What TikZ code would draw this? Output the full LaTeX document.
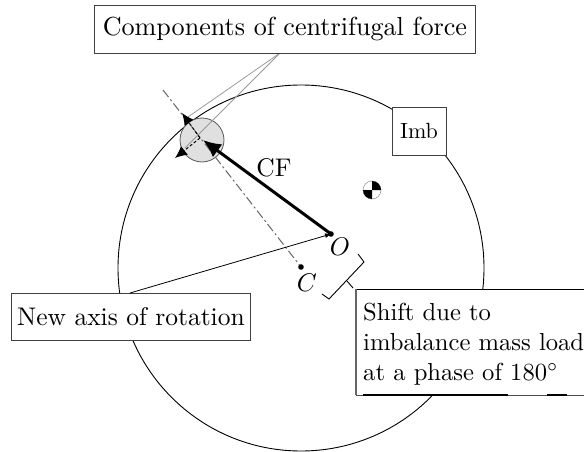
\documentclass[tikz,border=0pt]{standalone}
\usepackage{graphicx}
\usetikzlibrary{arrows.meta}
\definecolor{ballgray}{gray}{0.88}
\newcommand{\bigtxt}[1]{\scalebox{2.55}{#1}}
\tikzset{
  lab/.style={draw=black!75,fill=white,line width=0.9pt,inner sep=0pt},
  leader/.style={black!40,line width=0.8pt},
  axisline/.style={black!60,line width=1pt,dash pattern=on 9pt off 3pt on 2pt off 3pt},
  comparrow/.style={densely dashed,line width=1pt,-{Latex[length=12pt,width=11pt]}},
  thinline/.style={line width=0.9pt}
}
\begin{document}
\begin{tikzpicture}[x=1pt,y=-1pt]
\useasboundingbox (0,0) rectangle (584,452);
\coordinate (Cc) at (301,268);
\draw[thinline] (Cc) circle[radius=183];
\node[lab,minimum width=54pt,minimum height=48pt] (imb) at (419,131) {\scalebox{2.2}{Imb}};
\coordinate (O) at (331,234);
\coordinate (B) at (202,140);
\coordinate (Bc) at (200,138);
\coordinate (Bh) at (203,140);
\coordinate (Ct) at (301,267);
\coordinate (Aend) at (163,90);
\coordinate (L0) at (280,53);
\coordinate (L1) at (188,117);
\coordinate (L2) at (185,148);
\coordinate (t1) at (182,113);
\coordinate (t2) at (175,158);
\coordinate (A0) at (130,293);
\coordinate (S1) at (358,254);
\coordinate (S2) at (364,262);
\coordinate (S3) at (329,299);
\coordinate (S4) at (322,294);
\coordinate (S5) at (347,281);
\coordinate (S6) at (353,288);
\draw[draw=black!65,fill=ballgray,line width=0.8pt] (B) circle[radius=22];
\draw[axisline] (Aend) -- (Ct);
\draw[leader] (L0) -- (L1);
\draw[leader] (L0) -- (L2);
\draw[comparrow] (Bc) -- (t1);
\draw[comparrow] (Bc) -- (t2);
\draw[line width=3pt,-{Latex[length=18pt,width=16pt]}] (O) -- (Bh);
\fill (O) circle[radius=2.8];
\fill (Ct) circle[radius=2.8];
\node (cf) at (274,168) {\bigtxt{CF}};
\node (olab) at (340,247) {\bigtxt{$O$}};
\node (clab) at (307,283) {\bigtxt{$C$}};
\node[lab,anchor=north west,minimum width=381pt,minimum height=48pt] (comp) at (94,5) {\scalebox{2.61}{Components of centrifugal force}};
\node[lab,anchor=north west,minimum width=239pt,minimum height=47pt] (axis) at (11,293) {\bigtxt{New axis of rotation}};
\draw[line width=0.8pt,-{Latex[length=6pt,width=5pt]}] (A0) -- (O);
\draw[thinline] (S1) -- (S2) -- (S3) -- (S4);
\draw[thinline] (S5) -- (S6);
\fill[white] (356,289) rectangle (584,395);
\draw[black,line width=0.9pt] (356,289) -- (584,289);
\draw[black!60,line width=1.1pt] (356,289) -- (356,395);
\draw[black!70,line width=0.6pt] (356,395) -- (584,395);
\draw[black,line width=1.1pt] (363,395) -- (508,395) (547,395) -- (567,395);
\node[anchor=north west,inner sep=0pt] (shift) at (363,299) {\scalebox{2.46}{\renewcommand{\arraystretch}{1.02}\begin{tabular}{@{}l@{}}Shift due to\\imbalance mass load\\at a phase of $180^\circ$\end{tabular}}};
\draw[black!40,line width=0.6pt,fill=white] (372,190) circle[radius=9];
\fill (372,190) -- (363,190) arc[start angle=180,end angle=90,radius=9] -- cycle;
\fill (372,190) -- (381,190) arc[start angle=0,end angle=-90,radius=9] -- cycle;
\end{tikzpicture}
\end{document}
